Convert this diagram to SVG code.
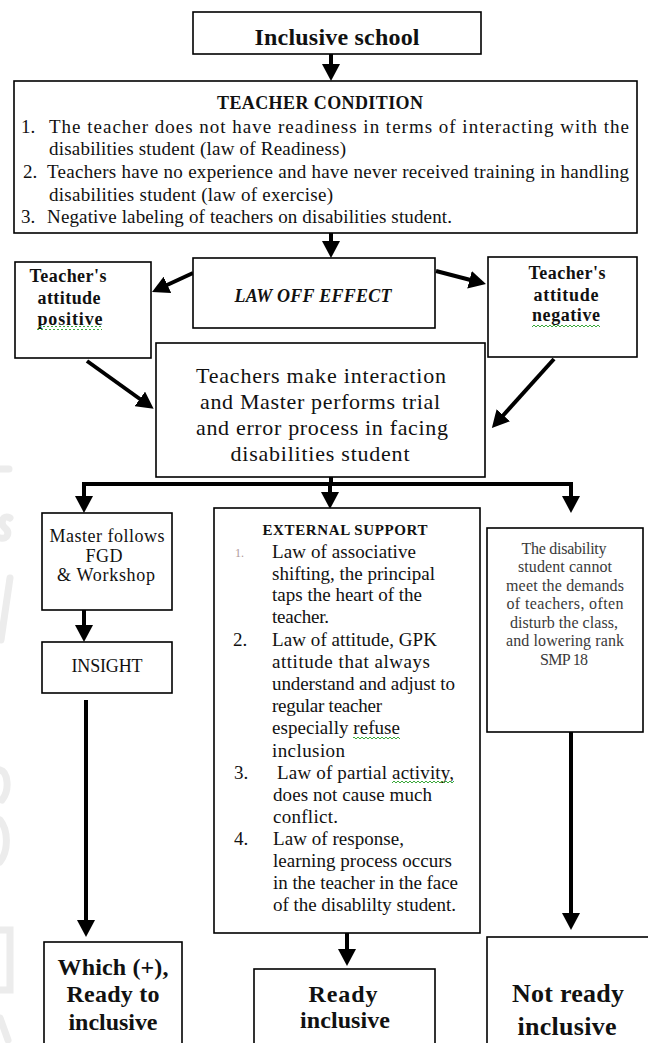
<svg xmlns="http://www.w3.org/2000/svg" width="648" height="1043" viewBox="0 0 648 1043">
<defs>
<style>
.box{fill:#fff;stroke:#000;stroke-width:1.6}
.t{font-family:"Liberation Serif","Times New Roman",serif;fill:#111}
.b{font-weight:bold}
.c{text-anchor:middle}
.f19{font-size:19px}
.f18{font-size:18px}
.f24{font-size:24px}
.cn{stroke:#000;stroke-width:4;fill:none}
.sq{fill:url(#sq)}
.wm{fill:none;stroke:#ececec;stroke-width:7;stroke-linecap:round}
.dim{fill:#3a3a3a}
</style>
<marker id="ah" markerUnits="userSpaceOnUse" markerWidth="17" markerHeight="18" refX="7" refY="9" orient="auto" viewBox="0 0 17 18">
<path d="M0,0 L17,9 L0,18 z" fill="#000"/>
</marker>
<pattern id="sq" width="4" height="4" patternUnits="userSpaceOnUse">
<path d="M0,3 L2,1 L4,3" stroke="#3aa83a" stroke-width="1" fill="none"/>
</pattern>
</defs>
<rect width="648" height="1043" fill="#fff"/>

<g id="watermark">
<path class="wm" d="M0,469 L9,469"/>
<path class="wm" d="M10,518 C2,514 0,524 5,528 C10,532 8,540 0,538"/>
<path class="wm" d="M10,578 L1,640"/>
<path class="wm" d="M0,770 C8,772 10,790 2,800 M0,820 C8,830 9,850 0,862"/>
<path class="wm" d="M0,930 L10,930 L10,990 L0,990"/>
<path class="wm" d="M0,1018 L8,1040"/>
</g>

<g id="connectors">
<line class="cn" x1="331" y1="54" x2="331" y2="71" marker-end="url(#ah)"/>
<line class="cn" x1="331" y1="233" x2="331" y2="248" marker-end="url(#ah)"/>
<line class="cn" x1="193" y1="273" x2="161.1" y2="287.8" marker-end="url(#ah)"/>
<line class="cn" x1="436" y1="271" x2="476.3" y2="281.5" marker-end="url(#ah)"/>
<line class="cn" x1="87" y1="361" x2="145.5" y2="403" marker-end="url(#ah)"/>
<line class="cn" x1="554" y1="359" x2="498.6" y2="420.5" marker-end="url(#ah)"/>
<line class="cn" x1="331" y1="477" x2="331" y2="484"/>
<path class="cn" d="M84,484 L571,484" stroke-linecap="square"/>
<line class="cn" x1="84" y1="484" x2="84" y2="503" marker-end="url(#ah)"/>
<line class="cn" x1="330" y1="484" x2="330" y2="499" marker-end="url(#ah)"/>
<line class="cn" x1="571" y1="484" x2="571" y2="503" marker-end="url(#ah)"/>
<line class="cn" x1="84" y1="610" x2="84" y2="632" marker-end="url(#ah)"/>
<line class="cn" x1="86" y1="700" x2="86" y2="927" marker-end="url(#ah)"/>
<line class="cn" x1="347" y1="933" x2="347" y2="956" marker-end="url(#ah)"/>
<line class="cn" x1="571" y1="732" x2="571" y2="920" marker-end="url(#ah)"/>
</g>

<g id="inclusive-school">
<rect class="box" x="193" y="12" width="288" height="42"/>
<text class="t b c f24" x="337" y="45" textLength="165">Inclusive school</text>
</g>

<g id="teacher-condition">
<rect class="box" x="14" y="81" width="623" height="152"/>
<text class="t b c f18" x="320" y="109" textLength="206">TEACHER CONDITION</text>
<text class="t f19" x="21" y="133">1.</text>
<text class="t f19" x="49" y="133" textLength="580" lengthAdjust="spacing">The teacher does not have readiness in terms of interacting with the</text>
<text class="t f19" x="49" y="155" textLength="297">disabilities student (law of Readiness)</text>
<text class="t f19" x="23" y="178">2.</text>
<text class="t f19" x="47" y="178" textLength="582" lengthAdjust="spacing">Teachers have no experience and have never received training in handling</text>
<text class="t f19" x="49" y="201" textLength="284">disabilities student (law of exercise)</text>
<text class="t f19" x="21" y="223">3.</text>
<text class="t f19" x="47" y="223" textLength="405">Negative labeling of teachers on disabilities student.</text>
</g>

<g id="law-off-effect">
<rect class="box" x="193" y="258" width="242" height="70"/>
<text class="t b c f18" x="313" y="302" font-style="italic" textLength="157">LAW OFF EFFECT</text>
</g>

<g id="attitude-positive">
<rect class="box" x="15" y="262" width="136" height="96"/>
<text class="t b c f18" x="68" y="282" textLength="77">Teacher's</text>
<text class="t b c f18" x="69" y="304" textLength="63">attitude</text>
<text class="t b c f18" x="70" y="325" textLength="65">positive</text>
<rect class="sq" x="37" y="326" width="65" height="4"/>
</g>

<g id="attitude-negative">
<rect class="box" x="488" y="257" width="149" height="100"/>
<text class="t b c f18" x="567" y="279" textLength="77">Teacher's</text>
<text class="t b c f18" x="566" y="301" textLength="65">attitude</text>
<text class="t b c f18" x="566" y="321" textLength="68">negative</text>
<rect class="sq" x="532" y="323" width="68" height="4"/>
</g>

<g id="interaction">
<rect class="box" x="156" y="343" width="329" height="134"/>
<text class="t c" font-size="22" x="321" y="383" textLength="250">Teachers make interaction</text>
<text class="t c" font-size="22" x="320" y="409" textLength="240">and Master performs trial</text>
<text class="t c" font-size="22" x="322" y="435" textLength="252">and error process in facing</text>
<text class="t c" font-size="22" x="320" y="461" textLength="179">disabilities student</text>
</g>

<g id="master-fgd">
<rect class="box" x="42" y="513" width="130" height="97"/>
<text class="t c f18" x="107" y="542" textLength="115">Master follows</text>
<text class="t c f18" x="104" y="562" textLength="37">FGD</text>
<text class="t c f18" x="106" y="581" textLength="98">&amp; Workshop</text>
</g>

<g id="insight">
<rect class="box" x="42" y="642" width="130" height="51"/>
<text class="t c f18" x="107" y="672" textLength="71">INSIGHT</text>
</g>

<g id="external-support">
<rect class="box" x="214" y="508" width="266" height="425"/>
<text class="t b c" font-size="15" x="345" y="535" textLength="165">EXTERNAL SUPPORT</text>
<text class="t" font-size="12" x="235" y="557" style="fill:#b09a9a">1.</text>
<text class="t f19" x="272" y="558" textLength="144">Law of associative</text>
<text class="t f19" x="272" y="580" textLength="163">shifting, the principal</text>
<text class="t f19" x="272" y="601" textLength="150">taps the heart of the</text>
<text class="t f19" x="272" y="623" textLength="57">teacher.</text>
<text class="t f19" x="233" y="646">2.</text>
<text class="t f19" x="272" y="646" textLength="165">Law of attitude, GPK</text>
<text class="t f19" x="272" y="668" textLength="158">attitude that always</text>
<text class="t f19" x="272" y="690" textLength="183">understand and adjust to</text>
<text class="t f19" x="272" y="712" textLength="110">regular teacher</text>
<text class="t f19" x="272" y="734" textLength="128">especially refuse</text>
<rect class="sq" x="353" y="735" width="47" height="4"/>
<text class="t f19" x="272" y="757" textLength="73">inclusion</text>
<text class="t f19" x="234" y="779">3.</text>
<text class="t f19" x="277" y="779" textLength="177">Law of partial activity,</text>
<rect class="sq" x="392" y="780" width="62" height="4"/>
<text class="t f19" x="273" y="801" textLength="159">does not cause much</text>
<text class="t f19" x="273" y="823" textLength="65">conflict.</text>
<text class="t f19" x="234" y="845">4.</text>
<text class="t f19" x="273" y="845" textLength="131">Law of response,</text>
<text class="t f19" x="273" y="867" textLength="179">learning process occurs</text>
<text class="t f19" x="273" y="889" textLength="185">in the teacher in the face</text>
<text class="t f19" x="273" y="911" textLength="183">of the disablilty student.</text>
</g>

<g id="cannot-meet">
<rect class="box" x="487" y="528" width="156" height="204"/>
<text class="t c dim" font-size="16" x="564" y="554" textLength="85">The disability</text>
<text class="t c dim" font-size="16" x="565" y="572" textLength="94">student cannot</text>
<text class="t c dim" font-size="16" x="565" y="591" textLength="118">meet the demands</text>
<text class="t c dim" font-size="16" x="565" y="609" textLength="117">of teachers, often</text>
<text class="t c dim" font-size="16" x="564" y="628" textLength="108">disturb the class,</text>
<text class="t c dim" font-size="16" x="565" y="646" textLength="118">and lowering rank</text>
<text class="t c dim" font-size="16" x="564" y="665" textLength="48">SMP 18</text>
</g>

<g id="ready-to-inclusive">
<rect class="box" x="44" y="942" width="138" height="110"/>
<text class="t b c f24" x="113" y="975" textLength="111">Which (+),</text>
<text class="t b c f24" x="113" y="1002" textLength="93">Ready to</text>
<text class="t b c f24" x="113" y="1030" textLength="89">inclusive</text>
</g>

<g id="ready-inclusive">
<rect class="box" x="254" y="969" width="181" height="85"/>
<text class="t b c f24" x="343" y="1002" textLength="69">Ready</text>
<text class="t b c f24" x="345" y="1028" textLength="90">inclusive</text>
</g>

<g id="not-ready-inclusive">
<rect class="box" x="487" y="937" width="166" height="115"/>
<text class="t b c" font-size="26" x="568" y="1002" textLength="112">Not ready</text>
<text class="t b c" font-size="26" x="567" y="1035" textLength="99">inclusive</text>
</g>
</svg>
